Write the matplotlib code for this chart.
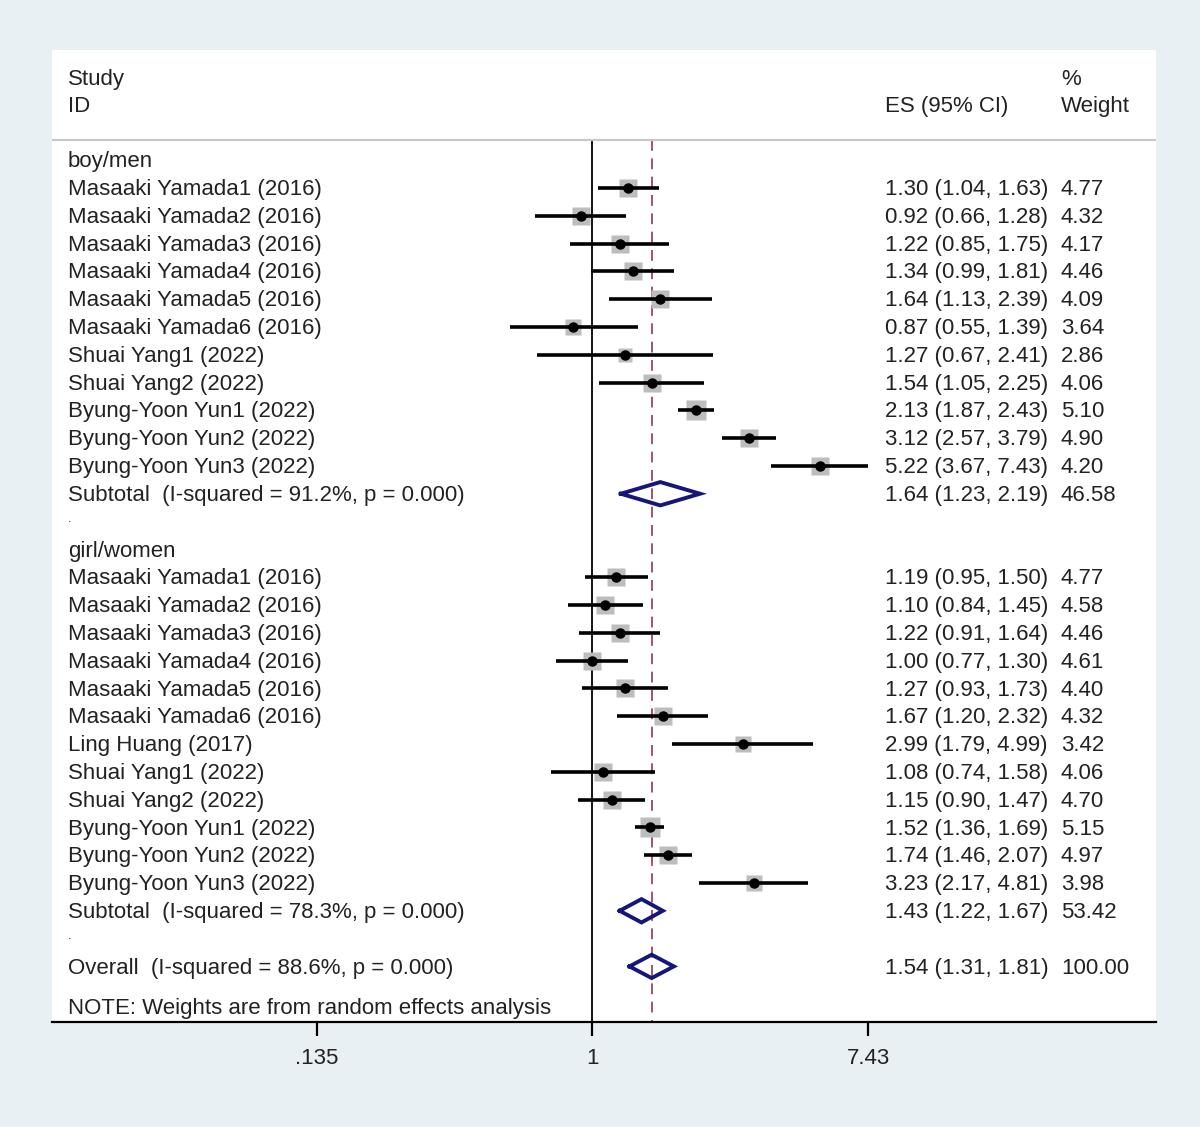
"""Stata-style forest plot: ES by sex subgroup, random effects."""

import matplotlib

matplotlib.use("Agg")
import matplotlib.pyplot as plt
import matplotlib.transforms as mtransforms

plt.rcParams["font.family"] = ["Liberation Sans", "DejaVu Sans"]

# --- data ---------------------------------------------------------------
boy_names = [
    "Masaaki Yamada1 (2016)", "Masaaki Yamada2 (2016)", "Masaaki Yamada3 (2016)",
    "Masaaki Yamada4 (2016)", "Masaaki Yamada5 (2016)", "Masaaki Yamada6 (2016)",
    "Shuai Yang1 (2022)", "Shuai Yang2 (2022)", "Byung-Yoon Yun1 (2022)",
    "Byung-Yoon Yun2 (2022)", "Byung-Yoon Yun3 (2022)",
]
boy_es = [1.30, 0.92, 1.22, 1.34, 1.64, 0.87, 1.27, 1.54, 2.13, 3.12, 5.22]
boy_lo = [1.04, 0.66, 0.85, 0.99, 1.13, 0.55, 0.67, 1.05, 1.87, 2.57, 3.67]
boy_hi = [1.63, 1.28, 1.75, 1.81, 2.39, 1.39, 2.41, 2.25, 2.43, 3.79, 7.43]
boy_w = [4.77, 4.32, 4.17, 4.46, 4.09, 3.64, 2.86, 4.06, 5.10, 4.90, 4.20]

girl_names = [
    "Masaaki Yamada1 (2016)", "Masaaki Yamada2 (2016)", "Masaaki Yamada3 (2016)",
    "Masaaki Yamada4 (2016)", "Masaaki Yamada5 (2016)", "Masaaki Yamada6 (2016)",
    "Ling Huang (2017)", "Shuai Yang1 (2022)", "Shuai Yang2 (2022)",
    "Byung-Yoon Yun1 (2022)", "Byung-Yoon Yun2 (2022)", "Byung-Yoon Yun3 (2022)",
]
girl_es = [1.19, 1.10, 1.22, 1.00, 1.27, 1.67, 2.99, 1.08, 1.15, 1.52, 1.74, 3.23]
girl_lo = [0.95, 0.84, 0.91, 0.77, 0.93, 1.20, 1.79, 0.74, 0.90, 1.36, 1.46, 2.17]
girl_hi = [1.50, 1.45, 1.64, 1.30, 1.73, 2.32, 4.99, 1.58, 1.47, 1.69, 2.07, 4.81]
girl_w = [4.77, 4.58, 4.46, 4.61, 4.40, 4.32, 3.42, 4.06, 4.70, 5.15, 4.97, 3.98]

subtotal_labels = ["Subtotal  (I-squared = 91.2%, p = 0.000)",
                   "Subtotal  (I-squared = 78.3%, p = 0.000)"]
subtotal_es = [1.64, 1.43]
subtotal_lo = [1.23, 1.22]
subtotal_hi = [2.19, 1.67]
subtotal_w = ["46.58", "53.42"]

overall_label = "Overall  (I-squared = 88.6%, p = 0.000)"
overall_es, overall_lo, overall_hi = 1.54, 1.31, 1.81

x_ticks = [0.135, 1, 7.43]
x_tick_labels = [".135", "1", "7.43"]

# --- style --------------------------------------------------------------
TEXT = "#222222"
BOX = "#bdbdbd"
NAVY = "#16167a"
DASH = "#8e3b4c"
FS = 16

fig = plt.figure(figsize=(12, 11.27), dpi=100)
fig.patch.set_facecolor("#e9f0f3")
ax = fig.add_axes([52 / 1200, 105 / 1127, 1104 / 1200, 972 / 1127])
ax.set_facecolor("white")
ax.set_xscale("log")
ax.set_xlim(0.01966, 60.3)
ax.set_ylim(31.0, -3.96)

for side in ("top", "left", "right"):
    ax.spines[side].set_visible(False)
ax.spines["bottom"].set_linewidth(1.6)
ax.spines["bottom"].set_color("black")

ax.set_yticks([])
ax.minorticks_off()
ax.set_xticks(x_ticks)
ax.set_xticklabels(x_tick_labels, fontsize=FS, color=TEXT)
ax.tick_params(axis="x", direction="out", length=10, width=1.6, pad=9,
               colors="black", labelcolor=TEXT)

tr = mtransforms.blended_transform_factory(ax.transAxes, ax.transData)
X_LABEL, X_ES, X_W = 0.0145, 0.7545, 0.9139
DY = 0.06  # text sits a touch below the mark centre


def txt(x, y, s):
    ax.text(x, y + DY, s, transform=tr, fontsize=FS, color=TEXT,
            ha="left", va="center")


# header
sep_y = -0.72
txt(X_LABEL, -2.95, "Study")
txt(X_LABEL, -1.98, "ID")
txt(X_ES, -1.98, "ES (95% CI)")
txt(X_W, -2.95, "%")
txt(X_W, -1.98, "Weight")
ax.axhline(sep_y, color="#c8c8c8", lw=1.6)

# reference lines
ax.plot([1, 1], [sep_y, 31.0], color="black", lw=1.3, zorder=1)
ax.plot([overall_es, overall_es], [sep_y, 31.0], color=DASH, lw=1.2,
        dashes=(6.5, 4.5), zorder=1)


def study_row(y, name, es, lo, hi, w):
    side = 12.5 * (w / 4.2) ** 0.5
    ax.plot([es], [y], marker="s", ms=side, color=BOX, mec="none", zorder=2)
    ax.plot([lo, hi], [y, y], color="black", lw=2.6, solid_capstyle="butt",
            zorder=3)
    ax.plot([es], [y], marker="o", ms=6.5, color="black", zorder=4)
    txt(X_LABEL, y, name)
    txt(X_ES, y, f"{es:.2f} ({lo:.2f}, {hi:.2f})")
    txt(X_W, y, f"{w:.2f}")


def diamond(y, es, lo, hi):
    h = 0.42
    ax.plot([lo, es, hi, es, lo], [y, y - h, y, y + h, y], color=NAVY,
            lw=2.8, zorder=4, solid_joinstyle="miter")


groups = [
    ("boy/men", boy_names, boy_es, boy_lo, boy_hi, boy_w),
    ("girl/women", girl_names, girl_es, girl_lo, girl_hi, girl_w),
]

row = 0
for g, (title, names, es, lo, hi, w) in enumerate(groups):
    txt(X_LABEL, row, title)
    row += 1
    for i in range(len(names)):
        study_row(row, names[i], es[i], lo[i], hi[i], w[i])
        row += 1
    diamond(row, subtotal_es[g], subtotal_lo[g], subtotal_hi[g])
    txt(X_LABEL, row, subtotal_labels[g])
    txt(X_ES, row, f"{subtotal_es[g]:.2f} ({subtotal_lo[g]:.2f}, {subtotal_hi[g]:.2f})")
    txt(X_W, row, subtotal_w[g])
    row += 1
    ax.text(X_LABEL, row - 0.1, ".", transform=tr, fontsize=9, color=TEXT,
            ha="left", va="center")
    row += 1

diamond(row, overall_es, overall_lo, overall_hi)
txt(X_LABEL, row, overall_label)
txt(X_ES, row, f"{overall_es:.2f} ({overall_lo:.2f}, {overall_hi:.2f})")
txt(X_W, row, "100.00")
txt(X_LABEL, row + 1.45, "NOTE: Weights are from random effects analysis")

fig.savefig("out.png", dpi=100, facecolor=fig.get_facecolor())
